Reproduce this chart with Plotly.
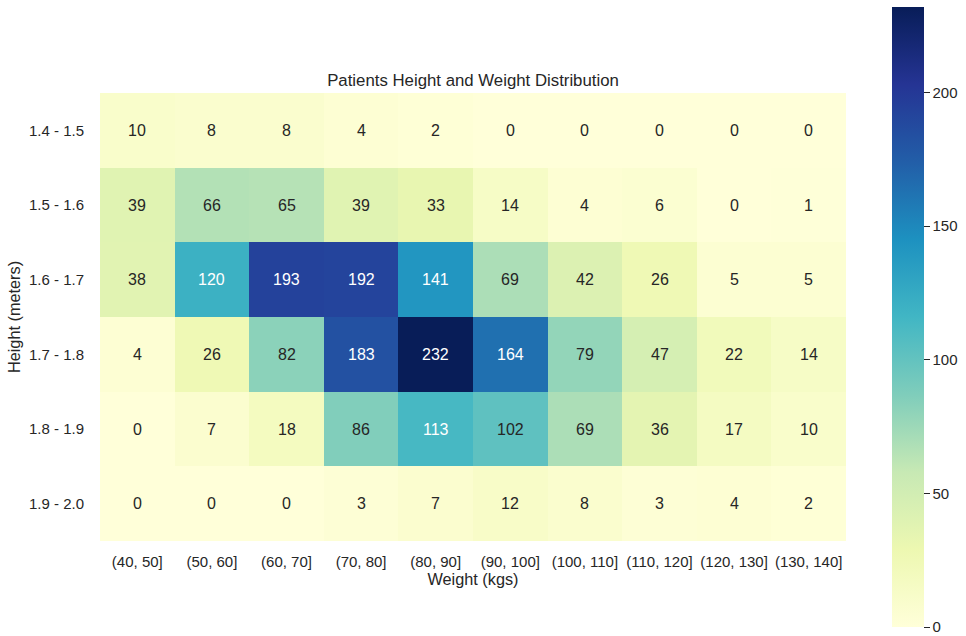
import plotly.graph_objects as go

# Weight bins (columns) and height bins (rows)
weight_bins = ["(40, 50]", "(50, 60]", "(60, 70]", "(70, 80]", "(80, 90]",
               "(90, 100]", "(100, 110]", "(110, 120]", "(120, 130]", "(130, 140]"]
height_bins = ["1.4 - 1.5", "1.5 - 1.6", "1.6 - 1.7", "1.7 - 1.8", "1.8 - 1.9", "1.9 - 2.0"]

row_14_15 = [10, 8, 8, 4, 2, 0, 0, 0, 0, 0]
row_15_16 = [39, 66, 65, 39, 33, 14, 4, 6, 0, 1]
row_16_17 = [38, 120, 193, 192, 141, 69, 42, 26, 5, 5]
row_17_18 = [4, 26, 82, 183, 232, 164, 79, 47, 22, 14]
row_18_19 = [0, 7, 18, 86, 113, 102, 69, 36, 17, 10]
row_19_20 = [0, 0, 0, 3, 7, 12, 8, 3, 4, 2]

counts = [row_14_15, row_15_16, row_16_17, row_17_18, row_18_19, row_19_20]
cbar_ticks = [0, 50, 100, 150, 200]

FONT = "Liberation Sans, Arial, Helvetica, sans-serif"
TEXT = "#262626"

fig = go.Figure(go.Heatmap(
    z=counts, x=weight_bins, y=height_bins,
    colorscale="YlGnBu", zmin=0, zmax=max(max(r) for r in counts),
    xgap=0, ygap=0,
    colorbar=dict(
        thickness=32, lenmode="pixels", len=620,
        x=1.0617, xanchor="left", xpad=0,
        y=0.5, yanchor="middle", ypad=0,
        outlinewidth=0,
        tickvals=cbar_ticks, ticks="outside", ticklen=6, tickwidth=1.2,
        tickcolor=TEXT, tickfont=dict(family=FONT, size=15, color=TEXT),
    ),
    hoverinfo="skip",
))

annotations = []
for i, h in enumerate(height_bins):
    for j, w in enumerate(weight_bins):
        v = counts[i][j]
        annotations.append(dict(
            x=w, y=h, text=str(v), showarrow=False,
            font=dict(family=FONT, size=16, color="white" if v > 105 else TEXT),
        ))

fig.update_layout(
    width=966, height=636,
    margin=dict(l=100, r=120, t=93, b=95, autoexpand=False),
    paper_bgcolor="white", plot_bgcolor="white",
    annotations=annotations,
    title=dict(text="Patients Height and Weight Distribution",
               x=0.5, xref="paper", y=1, yref="paper", yanchor="bottom",
               pad=dict(b=7),
               font=dict(family=FONT, size=16.8, color=TEXT)),
    xaxis=dict(showgrid=False, zeroline=False, ticks="outside", ticklen=7,
               tickcolor="rgba(0,0,0,0)",
               tickfont=dict(family=FONT, size=15, color=TEXT),
               title=dict(text="Weight (kgs)", standoff=2,
                          font=dict(family=FONT, size=16.3, color=TEXT))),
    yaxis=dict(showgrid=False, zeroline=False, autorange="reversed",
               ticks="outside", ticklen=12, tickcolor="rgba(0,0,0,0)",
               tickfont=dict(family=FONT, size=15, color=TEXT),
               title=dict(text="Height (meters)", standoff=4,
                          font=dict(family=FONT, size=16.3, color=TEXT))),
)

fig.write_html("out.html")
